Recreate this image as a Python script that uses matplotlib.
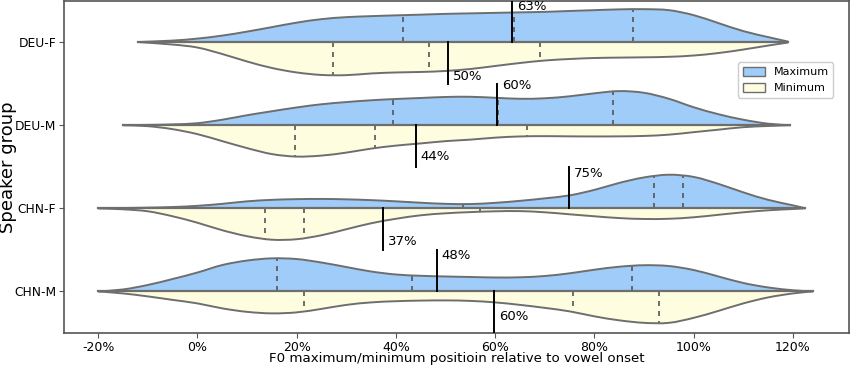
import numpy as np
import matplotlib.pyplot as plt
from matplotlib.patches import Patch, PathPatch
from matplotlib.path import Path

groups = ['DEU-F', 'DEU-M', 'CHN-F', 'CHN-M']

# density profiles (x in % of vowel, density in px of half-width)
deuf_max_x = [-12, -5, 0, 5, 10, 15, 20, 25, 30, 35, 40, 45, 50, 55, 60, 65, 70, 75, 80, 85, 90, 95, 100, 105, 110, 115, 119]
deuf_max_d = [0, 1.5, 3.5, 6.5, 10.5, 15, 19.5, 23, 25, 26, 26.8, 27.5, 28.3, 28.8, 29.3, 29.8, 30.3, 31.2, 32, 32.8, 33, 32, 27, 19, 11, 5, 0.5]
deuf_min_x = [-12, -5, 0, 5, 10, 15, 20, 25, 30, 35, 40, 45, 50, 55, 60, 65, 70, 75, 80, 85, 90, 95, 100, 105, 110, 115, 119]
deuf_min_d = [0, 2.5, 5.5, 12, 19.5, 26, 30.5, 33, 33.2, 31.5, 30.5, 30, 29, 27, 24, 21, 18.5, 17, 16, 15.6, 15.3, 14.8, 13.5, 11, 7.5, 3.5, 0.5]

deum_max_x = [-15, -10, -5, 0, 5, 10, 15, 20, 25, 30, 35, 40, 45, 50, 55, 60, 65, 70, 75, 80, 85, 90, 95, 100, 105, 110, 115, 119.5]
deum_max_d = [0, 0.3, 0.8, 2, 5.5, 10, 14, 17.8, 21, 23.2, 25, 26.3, 27.3, 28.3, 28.5, 27.5, 26.5, 27, 29, 32, 34.2, 32.5, 26.5, 18, 11, 5.5, 1.5, 0]
deum_min_x = [-15, -10, -5, 0, 5, 10, 15, 20, 25, 30, 35, 40, 45, 50, 55, 60, 65, 70, 75, 80, 85, 90, 95, 100, 105, 110, 115, 119.5]
deum_min_d = [0, 1, 4, 9, 16, 23, 29, 31.5, 30.5, 27.5, 23.5, 20.5, 18.3, 16, 14.5, 12.5, 11.3, 11, 11.2, 11.3, 11.2, 10.8, 9.5, 7, 4.5, 2, 0.8, 0]

chnf_max_x = [-20, -15, -10, -5, 0, 5, 10, 15, 20, 25, 30, 35, 40, 45, 50, 55, 60, 65, 70, 75, 80, 85, 90, 95, 100, 105, 110, 115, 120, 122.5]
chnf_max_d = [0, 0.3, 0.7, 1.3, 2.5, 4.5, 7, 8.5, 9.2, 9.4, 9, 8.2, 7, 5.6, 4.5, 4.3, 5.5, 7.5, 10, 13, 18.5, 25.5, 31, 33.7, 31.5, 24.5, 16, 8.5, 3, 0]
chnf_min_x = [-20, -15, -10, -5, 0, 5, 10, 15, 20, 25, 30, 35, 40, 45, 50, 55, 60, 65, 70, 75, 80, 85, 90, 95, 100, 105, 110, 115, 120, 122.5]
chnf_min_d = [0, 1, 3, 8, 14.5, 22, 28, 31.5, 31, 27, 21, 15, 10.5, 7, 5, 3.8, 3, 2.8, 4, 6, 8, 9.8, 10.7, 10.5, 9, 6.5, 4, 2, 0.7, 0]

chnm_max_x = [-20, -15, -10, -5, 0, 5, 10, 15, 20, 25, 30, 35, 40, 45, 50, 55, 60, 65, 70, 75, 80, 85, 90, 95, 100, 105, 110, 115, 120, 124]
chnm_max_d = [0, 2, 6.5, 12.5, 19, 26.5, 31, 33.2, 32.5, 29, 24.5, 20, 17, 15.7, 15, 14.5, 14, 14.2, 15.5, 18.2, 21.8, 24.8, 26.3, 25.5, 21.5, 15, 8.5, 4, 1.2, 0]
chnm_min_x = [-20, -15, -10, -5, 0, 5, 10, 15, 20, 25, 30, 35, 40, 45, 50, 55, 60, 65, 70, 75, 80, 85, 90, 95, 100, 105, 110, 115, 120, 124]
chnm_min_d = [0, 2, 5, 8.5, 12, 17, 20.5, 22, 21, 17.5, 13.5, 11, 9.8, 9.2, 9, 9.5, 11, 13.5, 16.5, 20, 25, 29, 31.5, 31.5, 26.5, 19.5, 12, 6, 2, 0]

# quartiles (dashed lines)
max_quart = [[41.5, 63.7, 87.8], [39.5, 60.5, 83.7], [53.5, 92.1, 97.9], [16.0, 43.2, 87.6]]
min_quart = [[27.4, 46.7, 69.1], [19.7, 35.8, 66.4], [13.6, 21.5, 57.0], [21.4, 75.6, 93.1]]

# means (black lines with labels)
max_mean = [63.4, 60.3, 74.8, 48.2]
min_mean = [50.4, 44.0, 37.3, 59.8]

max_x = [deuf_max_x, deum_max_x, chnf_max_x, chnm_max_x]
max_d = [deuf_max_d, deum_max_d, chnf_max_d, chnm_max_d]
min_x = [deuf_min_x, deum_min_x, chnf_min_x, chnm_min_x]
min_d = [deuf_min_d, deum_min_d, chnf_min_d, chnm_min_d]

blue = '#9fccf8'
cream = '#fffde0'
edge = '#6e6e6e'
scale = 1 / 83.4  # px -> category units

# label offsets (px) from the violin centre
up_dy = [-36, -40, -35, -36.5]
down_dy = [35, 31, 33, 25]


def curve_verts(x, y):
    # Catmull-Rom through the read points, as cubic Bezier segments
    pts = np.column_stack([x, y])
    verts = [pts[0]]
    codes = [Path.MOVETO]
    n = len(pts)
    for k in range(n - 1):
        p0 = pts[max(k - 1, 0)]
        p1 = pts[k]
        p2 = pts[k + 1]
        p3 = pts[min(k + 2, n - 1)]
        verts += [p1 + (p2 - p0) / 6, p2 - (p3 - p1) / 6, p2]
        codes += [Path.CURVE4] * 3
    return verts, codes


def half_violin(ax, x, y, center, color):
    verts, codes = curve_verts(x, y)
    ax.add_patch(PathPatch(Path(verts, codes), fill=False, edgecolor=edge, lw=1.4, zorder=3))
    verts = verts + [(x[-1], center), (x[0], center), (x[0], center)]
    codes = codes + [Path.LINETO, Path.LINETO, Path.CLOSEPOLY]
    ax.add_patch(PathPatch(Path(verts, codes), facecolor=color, lw=0, zorder=1))


fig = plt.figure(figsize=(8.5, 3.67), dpi=100)
ax = fig.add_axes([64 / 850, 1 - 333 / 367, 785 / 850, 332.5 / 367])

for i, g in enumerate(groups):
    xm = np.array(max_x[i], dtype=float)
    dm = np.array(max_d[i]) * scale
    xn = np.array(min_x[i], dtype=float)
    dn = np.array(min_d[i]) * scale

    half_violin(ax, xm, i - dm, i, blue)
    half_violin(ax, xn, i + dn, i, cream)
    lo = min(xm[0], xn[0])
    hi = max(xm[-1], xn[-1])
    ax.plot([lo, hi], [i, i], color=edge, lw=1.6, zorder=3)

    for q in max_quart[i]:
        h = np.interp(q, xm, dm)
        ax.plot([q, q], [i, i - h], color='#555555', lw=1.2, ls=(0, (3, 3)), zorder=2)
    for q in min_quart[i]:
        h = np.interp(q, xn, dn)
        ax.plot([q, q], [i, i + h], color='#555555', lw=1.2, ls=(0, (3, 3)), zorder=2)

    m = max_mean[i]
    ax.plot([m, m], [i, i - 0.5], color='black', lw=1.4, zorder=4)
    ax.text(m + 1.0, i + up_dy[i] * scale, f'{m:.0f}%', fontsize=9.5, va='center', ha='left')
    m = min_mean[i]
    ax.plot([m, m], [i, i + 0.5], color='black', lw=1.4, zorder=4)
    ax.text(m + 1.0, i + down_dy[i] * scale, f'{m:.0f}%', fontsize=9.5, va='center', ha='left')

ax.set_xlim(-26.9, 131.3)
ax.set_ylim(3.5, -0.5)
ax.set_yticks(range(len(groups)))
ax.set_yticklabels(groups, fontsize=8.8)
xt = [-20, 0, 20, 40, 60, 80, 100, 120]
ax.set_xticks(xt)
ax.set_xticklabels([f'{v}%' for v in xt], fontsize=9)
ax.set_xlabel('F0 maximum/minimum positioin relative to vowel onset', fontsize=9.6)
ax.xaxis.set_label_coords(0.5, -19 / 333)
ax.set_ylabel('Speaker group', fontsize=13)
ax.yaxis.set_label_coords(-47 / 785, 0.5)
for s in ax.spines.values():
    s.set_color('#555555')
    s.set_linewidth(1.2)
ax.tick_params(color='#555555', length=3.5, pad=2)

handles = [Patch(facecolor=blue, edgecolor=edge, label='Maximum'),
           Patch(facecolor=cream, edgecolor=edge, label='Minimum')]
ax.legend(handles=handles, loc='upper right', bbox_to_anchor=(0.98, 0.814), borderaxespad=0,
          fontsize=8, framealpha=1, edgecolor='#cccccc', handlelength=2.0, handleheight=0.9)

fig.savefig('out.png', dpi=100)
